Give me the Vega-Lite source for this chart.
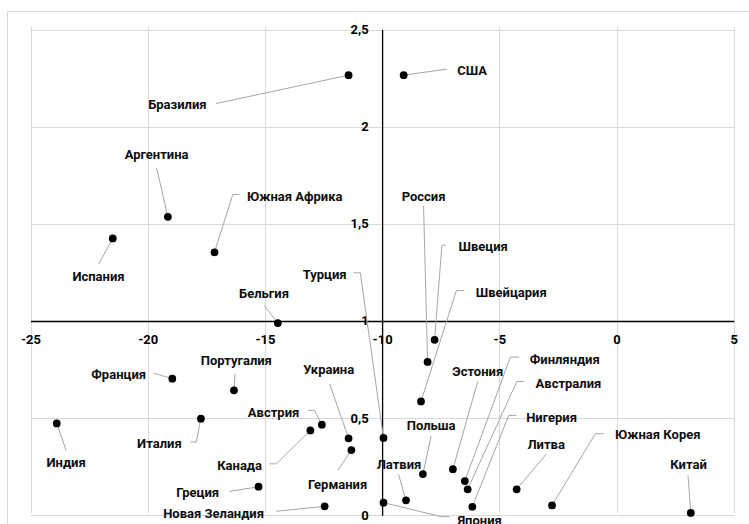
{
  "$schema": "https://vega.github.io/schema/vega-lite/v6.json",
  "width": 745,
  "height": 520,
  "autosize": {"type": "none"},
  "padding": {"left": 7, "top": 11, "right": 0, "bottom": 0},
  "background": "#ffffff",
  "config": {
    "view": {"stroke": "#d9d9d9", "strokeWidth": 1},
    "font": "Roboto"
  },
  "data": {
    "values": [
      {"c": "Бразилия", "x": -11.43, "y": 2.265, "ex": -17.08, "ey": 2.119, "hx": -17.08, "tx": -18.73, "ty": 2.111},
      {"c": "США", "x": -9.08, "y": 2.265, "ex": -7.25, "ey": 2.296, "hx": -7.25, "tx": -6.16, "ty": 2.286},
      {"c": "Аргентина", "x": -19.14, "y": 1.536, "ex": -19.62, "ey": 1.788, "hx": -19.62, "tx": -19.62, "ty": 1.853},
      {"c": "Южная Африка", "x": -17.15, "y": 1.353, "ex": -16.37, "ey": 1.651, "hx": -16.08, "tx": -13.73, "ty": 1.639},
      {"c": "Испания", "x": -21.49, "y": 1.425, "ex": -22.09, "ey": 1.293, "hx": -22.09, "tx": -22.10, "ty": 1.224},
      {"c": "Бельгия", "x": -14.45, "y": 0.989, "ex": -15.04, "ey": 1.082, "hx": -15.04, "tx": -15.04, "ty": 1.138},
      {"c": "Турция", "x": -9.94, "y": 0.398, "ex": -10.93, "ey": 1.248, "hx": -11.22, "tx": -12.45, "ty": 1.236},
      {"c": "Россия", "x": -8.06, "y": 0.789, "ex": -8.23, "ey": 1.591, "hx": -8.23, "tx": -8.23, "ty": 1.639},
      {"c": "Швеция", "x": -7.76, "y": 0.903, "ex": -7.45, "ey": 1.390, "hx": -7.30, "tx": -5.69, "ty": 1.382},
      {"c": "Швейцария", "x": -8.34, "y": 0.586, "ex": -6.83, "ey": 1.157, "hx": -6.49, "tx": -4.49, "ty": 1.145},
      {"c": "Эстония", "x": -6.98, "y": 0.237, "ex": -5.92, "ey": 0.689, "hx": -5.92, "tx": -5.92, "ty": 0.737},
      {"c": "Финляндия", "x": -6.47, "y": 0.176, "ex": -4.53, "ey": 0.814, "hx": -4.15, "tx": -2.21, "ty": 0.800},
      {"c": "Австралия", "x": -6.35, "y": 0.134, "ex": -4.25, "ey": 0.689, "hx": -3.93, "tx": -2.05, "ty": 0.677},
      {"c": "Нигерия", "x": -6.15, "y": 0.044, "ex": -4.60, "ey": 0.514, "hx": -4.27, "tx": -2.77, "ty": 0.502},
      {"c": "Польша", "x": -8.26, "y": 0.212, "ex": -7.91, "ey": 0.408, "hx": -7.91, "tx": -7.91, "ty": 0.459},
      {"c": "Латвия", "x": -8.98, "y": 0.077, "ex": -9.30, "ey": 0.211, "hx": -9.30, "tx": -9.28, "ty": 0.257},
      {"c": "Литва", "x": -4.26, "y": 0.134, "ex": -3.00, "ey": 0.314, "hx": -3.00, "tx": -3.00, "ty": 0.363},
      {"c": "Южная Корея", "x": -2.75, "y": 0.051, "ex": -0.90, "ey": 0.420, "hx": -0.55, "tx": 1.76, "ty": 0.412},
      {"c": "Китай", "x": 3.17, "y": 0.012, "ex": 3.05, "ey": 0.206, "hx": 3.05, "tx": 3.07, "ty": 0.257},
      {"c": "Япония", "x": -9.94, "y": 0.065, "ex": -7.47, "ey": -0.007, "hx": -7.12, "tx": -5.84, "ty": -0.028},
      {"c": "Франция", "x": -18.95, "y": 0.703, "ex": -19.75, "ey": 0.732, "hx": -19.75, "tx": -21.24, "ty": 0.720},
      {"c": "Португалия", "x": -16.32, "y": 0.643, "ex": -16.28, "ey": 0.728, "hx": -16.28, "tx": -16.22, "ty": 0.794},
      {"c": "Италия", "x": -17.73, "y": 0.497, "ex": -17.93, "ey": 0.377, "hx": -18.18, "tx": -19.50, "ty": 0.365},
      {"c": "Индия", "x": -23.88, "y": 0.473, "ex": -23.48, "ey": 0.334, "hx": -23.48, "tx": -23.48, "ty": 0.267},
      {"c": "Австрия", "x": -12.57, "y": 0.466, "ex": -12.88, "ey": 0.540, "hx": -13.17, "tx": -14.63, "ty": 0.526},
      {"c": "Канада", "x": -13.06, "y": 0.437, "ex": -14.51, "ey": 0.265, "hx": -14.80, "tx": -16.08, "ty": 0.254},
      {"c": "Украина", "x": -11.43, "y": 0.396, "ex": -12.24, "ey": 0.677, "hx": -12.24, "tx": -12.28, "ty": 0.749},
      {"c": "Германия", "x": -11.31, "y": 0.336, "ex": -11.89, "ey": 0.231, "hx": -11.89, "tx": -11.90, "ty": 0.157},
      {"c": "Греция", "x": -15.27, "y": 0.147, "ex": -16.51, "ey": 0.123, "hx": -16.51, "tx": -17.87, "ty": 0.115},
      {"c": "Новая Зеландия", "x": -12.45, "y": 0.046, "ex": -14.51, "ey": 0.021, "hx": -14.51, "tx": -17.19, "ty": 0.008}
    ]
  },
  "resolve": {"axis": {"x": "independent", "y": "independent"}},
  "layer": [
    {
      "mark": {"type": "rule", "color": "#a6a6a6", "strokeWidth": 1},
      "encoding": {
        "x": {
          "field": "x", "type": "quantitative",
          "scale": {"domain": [-25, 5], "range": [23.5, 726.7], "nice": false, "zero": false},
          "axis": {"orient": "bottom", "grid": true, "gridColor": "#d9d9d9", "gridWidth": 1, "domain": false, "ticks": false, "labels": false, "title": null, "values": [-25, -20, -15, -10, -5, 0, 5]}
        },
        "y": {
          "field": "y", "type": "quantitative",
          "scale": {"domain": [0, 2.5], "range": [504.3, 18.5], "nice": false, "zero": false},
          "axis": {"orient": "left", "grid": true, "gridColor": "#d9d9d9", "gridWidth": 1, "domain": false, "ticks": false, "labels": false, "title": null, "values": [0, 0.5, 1, 1.5, 2, 2.5]}
        },
        "x2": {"field": "ex"},
        "y2": {"field": "ey"}
      }
    },
    {
      "mark": {"type": "rule", "color": "#a6a6a6", "strokeWidth": 1},
      "encoding": {
        "x": {"field": "ex", "type": "quantitative", "axis": null},
        "y": {"field": "ey", "type": "quantitative", "axis": null},
        "x2": {"field": "hx"}
      }
    },
    {
      "mark": {"type": "point", "shape": "circle", "filled": true, "color": "#000000", "opacity": 1, "size": 60},
      "encoding": {
        "x": {
          "field": "x", "type": "quantitative",
          "axis": {"orient": "bottom", "offset": -210, "grid": false, "domain": true, "domainColor": "#000000", "domainWidth": 1.3, "ticks": false, "labelPadding": 12, "labelFont": "Roboto", "labelFontSize": 13, "labelFontWeight": "bold", "labelColor": "#000000", "labelExpr": "toString(datum.value)", "title": null, "values": [-25, -20, -15, -10, -5, 0, 5], "labelOverlap": false, "labelFlush": false}
        },
        "y": {
          "field": "y", "type": "quantitative",
          "axis": {"orient": "left", "offset": -375.1, "grid": false, "domain": true, "domainColor": "#000000", "domainWidth": 1.3, "ticks": false, "labelPadding": 14, "labelFont": "Roboto", "labelFontSize": 13, "labelFontWeight": "bold", "labelColor": "#000000", "labelExpr": "replace(toString(datum.value), '.', ',')", "title": null, "values": [0, 0.5, 1, 1.5, 2, 2.5], "labelOverlap": false, "labelFlush": false}
        }
      }
    },
    {
      "mark": {"type": "text", "font": "Roboto", "fontSize": 13, "fontWeight": "bold", "color": "#0d0d0d", "align": "center", "baseline": "middle"},
      "encoding": {
        "x": {"field": "tx", "type": "quantitative", "axis": null},
        "y": {"field": "ty", "type": "quantitative", "axis": null},
        "text": {"field": "c"}
      }
    }
  ]
}
